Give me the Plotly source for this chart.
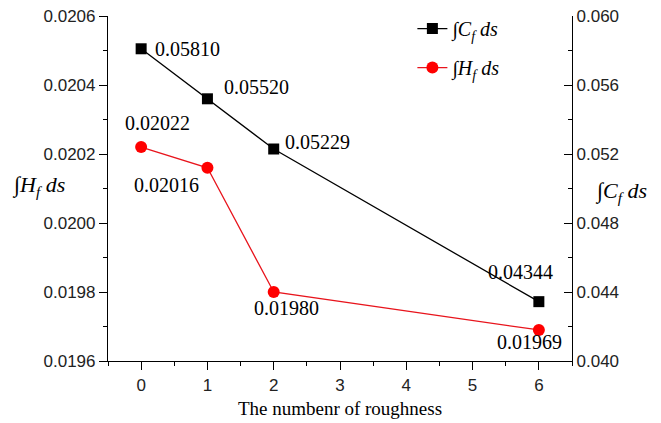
import plotly.graph_objects as go

roughness = [0, 1, 2, 6]
cf_values = [0.05810, 0.05520, 0.05229, 0.04344]
hf_values = [0.02022, 0.02016, 0.01980, 0.01969]
x_ticks = [0, 1, 2, 3, 4, 5, 6]

cf_shifts = [(12, 0, "left"), (15, 12, "left"), (9, 7, "left"), (-18, 30, "center")]
hf_shifts = [(16, 24, "center"), (-41, -17, "center"), (13, -16, "center"), (-9, -12, "center")]

fig = go.Figure()
fig.add_trace(go.Scatter(
    x=roughness, y=cf_values, yaxis="y2", mode="lines+markers",
    name="∫<i>C<sub>f</sub> ds</i>", legendgroup="a",
    line=dict(color="black", width=1.3),
    marker=dict(symbol="square", size=11, color="black"),
))
fig.add_trace(go.Scatter(
    x=roughness, y=hf_values, yaxis="y", mode="lines+markers",
    name="∫<i>H<sub>f</sub> ds</i>", legendgroup="b",
    line=dict(color="#e8141c", width=1.3),
    marker=dict(symbol="circle", size=12, color="#ff0000"),
))

serif = "Liberation Serif, Times New Roman, serif"
ann_font = dict(family=serif, size=20, color="black")
annotations = []
for xv, yv, (dx, dy, anc) in zip(roughness, cf_values, cf_shifts):
    annotations.append(dict(x=xv, y=yv, xref="x", yref="y2", text=f"{yv:.5f}",
                            showarrow=False, xanchor=anc, yanchor="middle",
                            xshift=dx, yshift=dy, font=ann_font))
for xv, yv, (dx, dy, anc) in zip(roughness, hf_values, hf_shifts):
    annotations.append(dict(x=xv, y=yv, xref="x", yref="y", text=f"{yv:.5f}",
                            showarrow=False, xanchor=anc, yanchor="middle",
                            xshift=dx, yshift=dy, font=ann_font))

title_font = dict(family=serif, size=22, color="black")
annotations.append(dict(x=0, y=0.5, xref="paper", yref="paper", text="∫<i>H<sub>f</sub> ds</i>",
                        showarrow=False, xanchor="right", yanchor="middle", xshift=-41, yshift=3,
                        font=title_font))
annotations.append(dict(x=1, y=0.5, xref="paper", yref="paper", text="∫<i>C<sub>f</sub> ds</i>",
                        showarrow=False, xanchor="left", yanchor="middle", xshift=21, yshift=-3,
                        font=title_font))

tick_font = dict(family="Liberation Sans, Arial, sans-serif", size=17, color="#222")

fig.update_layout(
    width=653, height=415,
    margin=dict(l=100, r=89, t=8, b=62, autoexpand=False),
    paper_bgcolor="white", plot_bgcolor="white",
    showlegend=True,
    legend=dict(x=0.656, y=1.02, xanchor="left", yanchor="top",
                font=dict(family=serif, size=20, color="black"),
                bgcolor="rgba(0,0,0,0)", tracegroupgap=10, traceorder="grouped"),
    xaxis=dict(range=[-0.5, 6.5], tickvals=x_ticks, ticks="outside", ticklen=8,
               tickwidth=1.2, tickcolor="black", showline=True, linecolor="black",
               linewidth=1.2, showgrid=False, zeroline=False, tickfont=tick_font,
               ticklabeloverflow="allow",
               minor=dict(dtick=0.5, ticks="outside", ticklen=4, tickcolor="black", tickwidth=1.2),
               title=dict(text="The numbenr of roughness",
                          font=dict(family=serif, size=19, color="black"),
                          standoff=8)),
    yaxis=dict(range=[0.0196, 0.0206], dtick=0.0002, tick0=0.0196, tickformat=".4f",
               ticks="outside", ticklen=8, tickwidth=1.2, tickcolor="black",
               showline=True, linecolor="black", linewidth=1.2, showgrid=False,
               zeroline=False, tickfont=tick_font, ticklabeloverflow="allow",
               minor=dict(dtick=0.0001, ticks="outside", ticklen=4, tickcolor="black", tickwidth=1.2)),
    yaxis2=dict(range=[0.040, 0.060], dtick=0.004, tick0=0.040, tickformat=".3f",
                overlaying="y", side="right", anchor="x",
                ticks="inside", ticklen=8, tickwidth=1.2, tickcolor="black",
                showline=True, linecolor="black", linewidth=1.2, showgrid=False,
                zeroline=False, tickfont=tick_font, ticklabeloverflow="allow",
                minor=dict(dtick=0.002, ticks="inside", ticklen=4, tickcolor="black", tickwidth=1.2)),
    annotations=annotations,
)

fig.write_html("out.html")
